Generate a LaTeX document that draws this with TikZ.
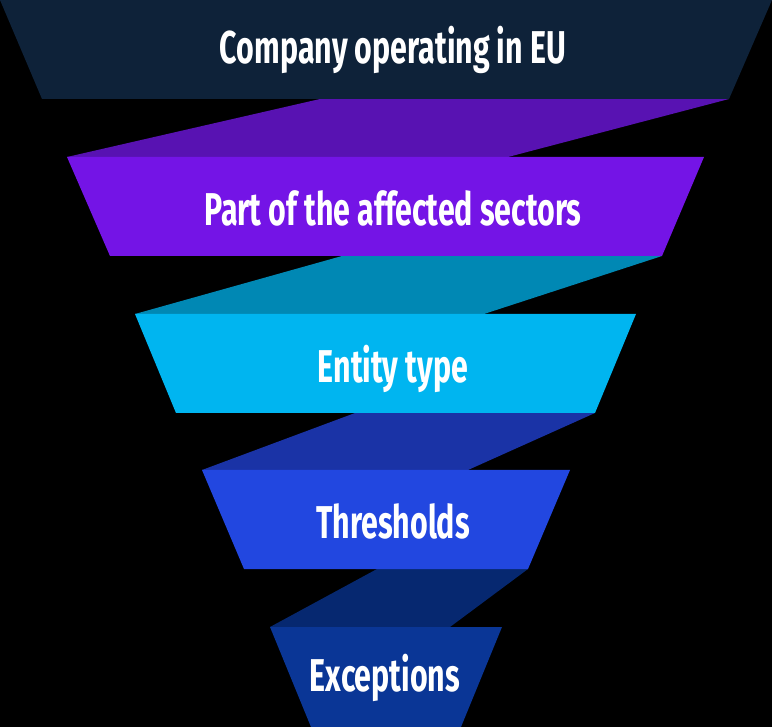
\documentclass[tikz,border=0pt]{standalone}
\usepackage{fontspec}
\newfontfamily\labfont[FakeStretch=0.66]{Fira Sans Bold}
\definecolor{bgc}{RGB}{0,0,0}
\definecolor{tA}{RGB}{14,34,57}
\definecolor{bA}{RGB}{88,18,178}
\definecolor{tB}{RGB}{116,20,230}
\definecolor{bB}{RGB}{0,136,180}
\definecolor{tC}{RGB}{0,181,240}
\definecolor{bC}{RGB}{26,51,166}
\definecolor{tD}{RGB}{34,71,224}
\definecolor{bD}{RGB}{6,40,112}
\definecolor{tE}{RGB}{10,54,150}
\begin{document}
\begin{tikzpicture}[x=1pt,y=-1pt,
  lab/.style={text=white,font=\labfont\fontsize{46}{46}\selectfont,anchor=base,inner sep=0pt}]
\useasboundingbox (0,0) rectangle (772,727);
\fill[bgc] (0,0) rectangle (772,727);
% bands
\fill[bA] (320,99) -- (729,99) -- (508,157) -- (67,157) -- cycle;
\fill[bB] (342,256) -- (662,256) -- (484,314) -- (135,314) -- cycle;
\fill[bC] (355,413) -- (595,413) -- (468,470) -- (202,470) -- cycle;
\fill[bD] (377,569) -- (528,569) -- (450,627) -- (270,627) -- cycle;
% funnel levels
\fill[tA] (0,0) -- (772,0) -- (729,99) -- (42,99) -- cycle;
\fill[tB] (67,157) -- (704,157) -- (662,256) -- (110,256) -- cycle;
\fill[tC] (135,314) -- (636,314) -- (595,413) -- (176,413) -- cycle;
\fill[tD] (202,470) -- (570,470) -- (528,569) -- (244,569) -- cycle;
\fill[tE] (270,627) -- (502,627) -- (461,727) -- (311,727) -- cycle;
% labels
\node[lab] (l1) at (393,64) {Company operating in EU};
\node[lab] (l2) at (393,226) {Part of the affected sectors};
\node[lab] (l3) at (393,383) {Entity type};
\node[lab] (l4) at (393,539) {Thresholds};
\node[lab] (l5) at (385,691) {Exceptions};
\end{tikzpicture}
\end{document}
